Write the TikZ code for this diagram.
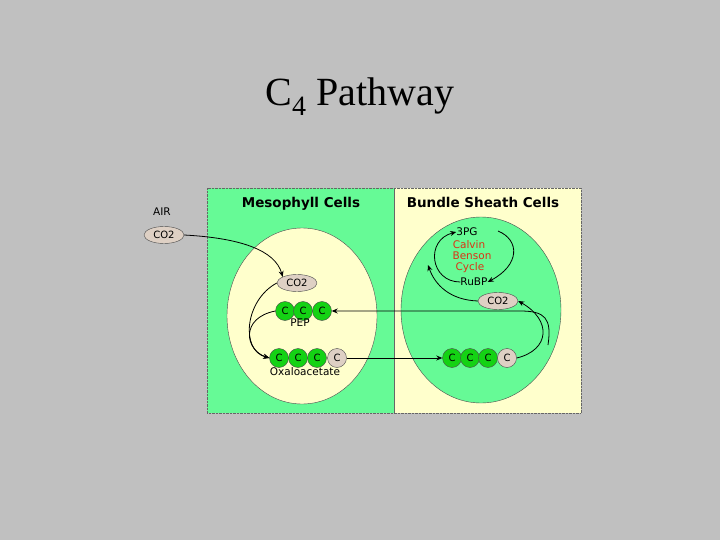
\documentclass[tikz,border=0pt]{standalone}
\usepackage{fontspec}
\setmainfont{Liberation Serif}
\newfontfamily\dvsans{DejaVu Sans}
\usetikzlibrary{arrows.meta,shapes.geometric}
\definecolor{bg}{RGB}{192,192,192}
\definecolor{mgreen}{RGB}{102,250,150}
\definecolor{ycream}{RGB}{255,255,204}
\definecolor{cgreen}{RGB}{20,210,20}
\definecolor{cgray}{RGB}{222,208,196}
\definecolor{cred}{RGB}{220,50,20}
\begin{document}
\begin{tikzpicture}[x=1pt,y=-1pt,
  gc/.style={circle,fill=cgreen,draw=black!70,minimum size=19pt,inner sep=0pt,font=\dvsans\fontsize{10}{10}\selectfont},
  wc/.style={gc,fill=cgray},
  co/.style={ellipse,fill=cgray,draw=black!70,minimum width=40pt,minimum height=17pt,inner sep=0pt,font=\dvsans\fontsize{10}{10}\selectfont},
  lab/.style={font=\dvsans\fontsize{10.5}{11}\selectfont,inner sep=0pt},
  head/.style={font=\dvsans\bfseries\fontsize{13.5}{14}\selectfont,inner sep=0pt},
  ar/.style={-{Stealth[length=6pt,width=5pt]},thick}]
\useasboundingbox (0,0) rectangle (720,540);
\fill[bg] (0,0) rectangle (720,540);
\fill[mgreen] (207,188) rectangle (394,413);
\fill[ycream] (394,188) rectangle (581,413);
\draw[black!60,densely dotted] (207,188) rectangle (581,413);
\draw[black!60] (394,188) -- (394,413);
\fill[ycream,draw=black!70] (302,316) ellipse [x radius=75,y radius=88];
\fill[mgreen,draw=black!70] (481,310) ellipse [x radius=80,y radius=93];
\node[font=\fontsize{40}{40}\selectfont] (title) at (360,97) {C\textsubscript{4} Pathway};
\node[head] (mh) at (301,204) {Mesophyll Cells};
\node[head] (bh) at (483,202) {Bundle Sheath Cells};
\node[lab] (air) at (162,212) {AIR};
\node[co] (co2a) at (164,235) {CO2};
\node[co] (co2b) at (297,283) {CO2};
\node[gc] (p1) at (285,311) {C};
\node[gc] (p2) at (303,311) {C};
\node[gc] (p3) at (322,311) {C};
\node[lab] (pep) at (300,323) {PEP};
\node[gc] (o1) at (279,358) {C};
\node[gc] (o2) at (298,358) {C};
\node[gc] (o3) at (317,358) {C};
\node[wc] (o4) at (337,358) {C};
\node[lab] (oxa) at (305,372) {Oxaloacetate};
\node[gc] (r1) at (452,358) {C};
\node[gc] (r2) at (470,358) {C};
\node[gc] (r3) at (488,358) {C};
\node[wc] (r4) at (507,358) {C};
\node[co] (co2c) at (498,301) {CO2};
\node[lab] (pg) at (467,232) {3PG};
\node[lab,text=cred] (cal) at (469,245) {Calvin};
\node[lab,text=cred] (ben) at (472,256) {Benson};
\node[lab,text=cred] (cyc) at (470,268) {Cycle};
\node[lab] (rubp) at (474,282) {RuBP};
\coordinate (j1) at (548,345);
\draw[ar] (co2a.east) .. controls (240,238) and (275,250) .. (co2b.north west);
\draw[ar] (co2b.west) .. controls (245,300) and (240,350) .. (o1.west);
\draw[ar] (p1.west) .. controls (240,318) and (245,350) .. (o1.west);
\draw[ar] (o4.east) -- (r1.west);
\draw[ar] (r4.east) .. controls (550,350) and (552,320) .. (co2c.east);
\draw[ar] (j1) .. controls (552,318) and (545,311) .. (520,311) -- (p3.east);
\draw[ar] (co2c.west) .. controls (450,300) and (435,285) .. (428,265);
\draw[ar] (498,231) .. controls (520,240) and (520,265) .. (rubp.east);
\draw[ar] (rubp.west) .. controls (430,282) and (425,240) .. (pg.west);
\end{tikzpicture}
\end{document}
